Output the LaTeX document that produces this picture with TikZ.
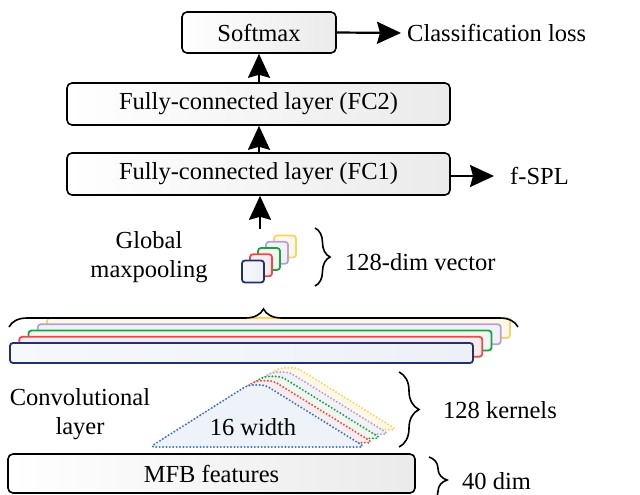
\documentclass[tikz,border=0pt]{standalone}
\usepackage{fontspec}
\setmainfont{Liberation Serif}
\usetikzlibrary{arrows.meta,decorations.pathreplacing,calc}
\definecolor{navyc}{HTML}{22306E}
\definecolor{redc}{HTML}{F04848}
\definecolor{greenc}{HTML}{1DA04A}
\definecolor{purplec}{HTML}{B4A2D2}
\definecolor{yellowc}{HTML}{F8D468}
\definecolor{navyf}{HTML}{EDF1F7}
\definecolor{redf}{HTML}{FAECEC}
\definecolor{greenf}{HTML}{EEF6F0}
\definecolor{purplef}{HTML}{F4F0F8}
\definecolor{yellowf}{HTML}{FDF7E6}
\definecolor{trapc}{HTML}{3A74C4}
\definecolor{trapf}{HTML}{EEF3F9}
\newcommand{\fs}{\fontsize{24.5}{29}\selectfont}
\begin{document}
\begin{tikzpicture}[x=1pt,y=-1pt,
  box/.style={draw, line width=1.6pt, rounded corners=5pt, left color=white, right color=black!8, font=\fs, inner sep=0pt},
  lbl/.style={font=\fs, inner sep=0pt, align=center},
  arr/.style={line width=2.2pt, arrows={-Stealth[length=24pt,width=22pt,inset=3pt]}},
  sq/.style={line width=1.8pt, rounded corners=3pt, minimum size=22pt, inner sep=0pt},
  bar/.style={line width=1.8pt, rounded corners=3pt, minimum width=463pt, minimum height=20pt, inner sep=0pt},
  trap/.style={line width=2.2pt, dash pattern=on 0pt off 3.4pt, line cap=round, rounded corners=5pt},
  brc/.style={line width=1.6pt, decorate},
]
\useasboundingbox (0,0) rectangle (640,495);
\clip (0,0) rectangle (640,495);

% top boxes
\node[box, minimum width=154pt, minimum height=41pt] (sm) at (259,32.5) {Softmax};
\node[box, minimum width=383pt, minimum height=42pt] (fc2) at (258.5,104) {Fully-connected layer (FC2)};
\node[box, minimum width=383pt, minimum height=42pt] (fc1) at (258.5,174) {Fully-connected layer (FC1)};

\node[lbl, anchor=west] (cl) at (407,33) {Classification loss};
\node[lbl, anchor=west] (fspl) at (510,176) {f-SPL};
\draw[arr] (sm.east) -- (cl.west -| 401,0);
\draw[arr] (fc1.east |- fspl.west) -- (494,0 |- fspl.west);
\draw[arr] (fc2.north -| sm.south) -- (sm.south);
\draw[arr] (fc1.north -| sm.south) -- (sm.south |- fc2.south);

% pooled squares
\node[sq, draw=yellowc, fill=yellowf] (s4) at (285,246.5) {};
\node[sq, draw=purplec, fill=purplef] (s3) at (277,252.75) {};
\node[sq, draw=greenc, fill=greenf] (s2) at (269,259) {};
\node[sq, draw=redc, fill=redf] (s1) at (261,265.25) {};
\node[sq, draw=navyc, left color=navyf!60!white, right color=navyf] (s0) at (253,271.5) {};
\coordinate (pt) at (260,229);
\draw[arr] (pt) -- (pt |- fc1.south);
\node[lbl] (gm) at (149,257) {Global\\maxpooling};
\draw[brc, decoration={brace, amplitude=15pt}] (315,228) -- (315,286);
\node[lbl, anchor=west] (dv) at (345,262) {128-dim vector};

% long bars
\node[bar, draw=yellowc, fill=yellowf] (b4) at (278.5,328) {};
\node[bar, draw=purplec, fill=purplef] (b3) at (269.25,334.25) {};
\node[bar, draw=greenc, fill=greenf] (b2) at (260,340.5) {};
\node[bar, draw=redc, fill=redf] (b1) at (250.75,346.75) {};
\node[bar, draw=navyc, left color=navyf!50!white, right color=navyf] (b0) at (241.5,353) {};
\draw[brc, decoration={brace, amplitude=18pt}] (9,327) -- (518,327);

% kernels
\foreach \i/\c/\f in {4/yellowc/yellowf, 3/purplec/purplef, 2/greenc/greenf, 1/redc/redf}{
  \draw[trap, draw=\c, fill=\f, shift={(8*\i,-4.3*\i)}] (150,447) -- (248,385) -- (265,385) -- (365,447) -- cycle;
}
\draw[trap, draw=trapc, fill=trapf] (150,447) -- (248,385) -- (265,385) -- (365,447) -- cycle;
\node[lbl] (w16) at (253,427) {16 width};
\node[lbl] (cv) at (80,414) {Convolutional\\layer};
\draw[brc, decoration={brace, amplitude=20pt}] (399,372) -- (399,447);
\node[lbl, anchor=west] (kn) at (443,410) {128 kernels};

% input
\node[box, minimum width=407pt, minimum height=39pt] (mfb) at (211.5,473.5) {MFB features};
\draw[brc, decoration={brace, amplitude=18pt}] (429,457) -- (429,503);
\node[lbl, anchor=west] (dm) at (462,481) {40 dim};
\end{tikzpicture}
\end{document}
